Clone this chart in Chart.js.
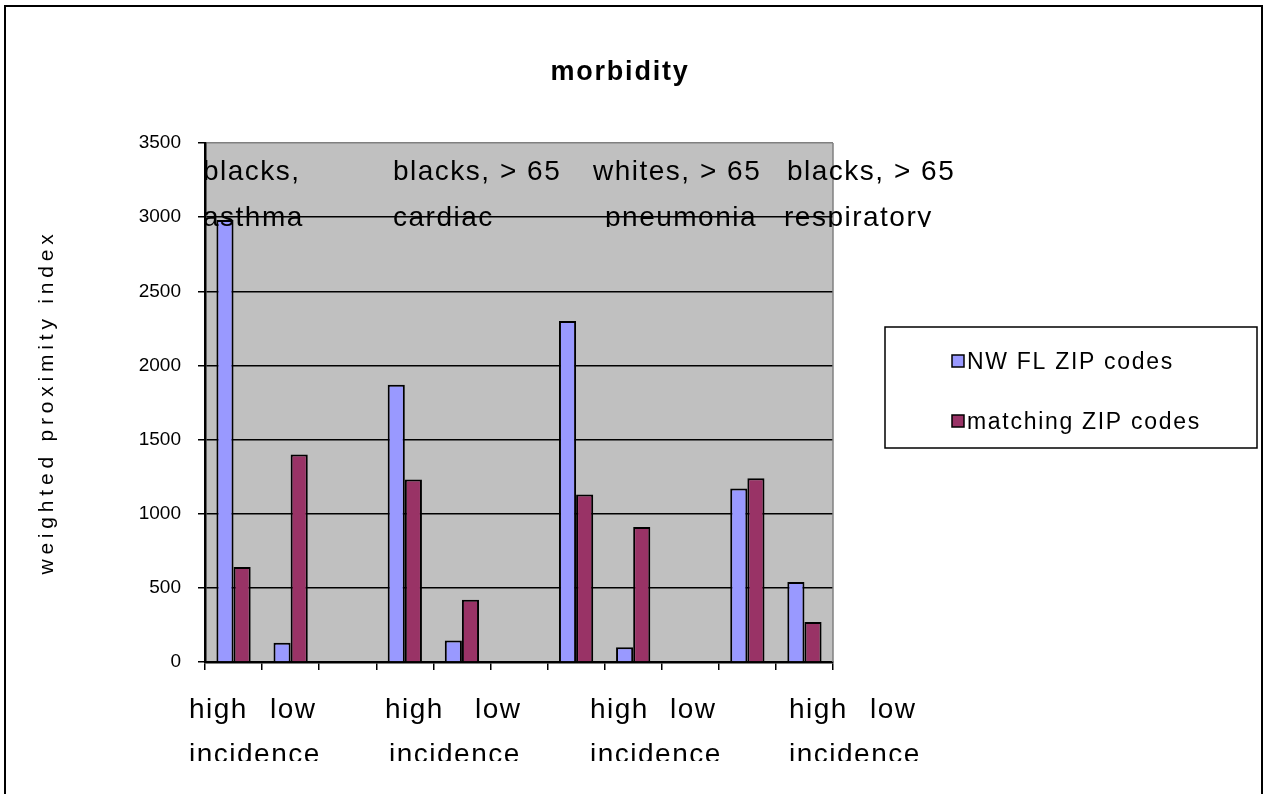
<!DOCTYPE html>
<html>
<head>
<meta charset="utf-8">
<title>morbidity</title>
<script src="https://cdn.jsdelivr.net/npm/chart.js@4/dist/chart.umd.min.js"></script>
<style>
  html, body { margin: 0; padding: 0; background: #ffffff; }
  #wrap { width: 1269px; height: 794px; position: relative; }
</style>
</head>
<body>
<div id="wrap"><canvas id="chart" width="1269" height="794"></canvas></div>
<script>
// Categories along the x axis: high / low incidence, with a spacer between groups
const categories = ['high', 'low', '', 'high', 'low', '', 'high', 'low', '', 'high', 'low'];

// Weighted proximity index per category
const nwflZip = [2980, 130, null, 1870, 145, null, 2300, 100, null, 1170, 540];
const matchingZip = [640, 1400, null, 1230, 420, null, 1130, 910, null, 1240, 270];

// Y axis ticks
const yTicks = [0, 500, 1000, 1500, 2000, 2500, 3000, 3500];

// Text blocks
const chartTitle = 'morbidity';
const yTitle = 'weighted proximity index';
const seriesNames = ['NW FL ZIP codes', 'matching ZIP codes'];
const groupCaptions = [
  ['blacks,', 'asthma'],
  ['blacks, > 65', 'cardiac'],
  ['whites, > 65', 'pneumonia'],
  ['blacks, > 65', 'respiratory']
];
const incidenceWords = ['high', 'low', 'incidence'];

// Placement of the free text boxes (pixels)
const captionX = [[203, 203], [393, 393], [593, 605], [787, 784]];
const incidenceX = [[189, 270, 189], [385, 475, 389], [590, 670, 590], [789, 870, 789]];

const FONT = '"Liberation Sans", Arial, sans-serif';
const BLUE = '#9999FF';
const PLUM = '#993366';

function txt(ctx, s, x, y, size, opts) {
  opts = opts || {};
  ctx.save();
  ctx.font = (opts.bold ? 'bold ' : '') + size + 'px ' + FONT;
  ctx.fillStyle = '#000';
  ctx.textAlign = opts.align || 'left';
  ctx.textBaseline = 'alphabetic';
  if ('letterSpacing' in ctx) ctx.letterSpacing = (opts.spacing != null ? opts.spacing : 1.5) + 'px';
  ctx.fillText(s, x, y);
  ctx.restore();
}

const decor = {
  id: 'decor',
  beforeDraw(chart) {
    const { ctx, chartArea: a } = chart;
    ctx.save();
    ctx.fillStyle = '#ffffff';
    ctx.fillRect(0, 0, chart.width, chart.height);
    ctx.fillStyle = '#C0C0C0';
    ctx.fillRect(a.left, a.top, a.right - a.left, a.bottom - a.top);
    ctx.restore();
  },
  afterDraw(chart) {
    const { ctx, chartArea: a } = chart;
    ctx.save();
    // right edge of the plot area
    ctx.strokeStyle = '#808080';
    ctx.lineWidth = 1.5;
    ctx.beginPath();
    ctx.moveTo(a.right, a.top);
    ctx.lineTo(a.right, a.bottom);
    ctx.stroke();
    ctx.restore();

    // title
    txt(ctx, chartTitle, 620, 80, 27, { bold: true, align: 'center', spacing: 1.8 });

    // y axis title
    ctx.save();
    ctx.translate(46, 402);
    ctx.rotate(-Math.PI / 2);
    txt(ctx, yTitle, 0, 7, 21, { align: 'center', spacing: 4.8 });
    ctx.restore();

    // group captions, clipped to their boxes
    ctx.save();
    ctx.beginPath();
    ctx.rect(0, 140, chart.width, 87);
    ctx.clip();
    groupCaptions.forEach((lines, g) => {
      txt(ctx, lines[0], captionX[g][0], 180, 28);
      txt(ctx, lines[1], captionX[g][1], 226, 28);
    });
    ctx.restore();

    // incidence captions below the axis
    ctx.save();
    ctx.beginPath();
    ctx.rect(0, 680, chart.width, 81);
    ctx.clip();
    incidenceX.forEach(xs => {
      txt(ctx, incidenceWords[0], xs[0], 718, 28);
      txt(ctx, incidenceWords[1], xs[1], 718, 28);
      txt(ctx, incidenceWords[2], xs[2], 763, 28);
    });
    ctx.restore();

    // legend
    ctx.save();
    ctx.strokeStyle = '#000';
    ctx.lineWidth = 1.5;
    ctx.strokeRect(885, 327, 372, 121);
    chart.data.datasets.forEach((ds, i) => {
      const y = 355 + i * 60;
      ctx.fillStyle = ds.backgroundColor;
      ctx.fillRect(952, y, 12, 12);
      ctx.strokeRect(952, y, 12, 12);
      txt(ctx, ds.label, 967, y + 14, 23, { spacing: 1.7 });
    });
    ctx.restore();

    // outer frame
    ctx.save();
    ctx.strokeStyle = '#000';
    ctx.lineWidth = 2;
    ctx.strokeRect(5, 6, 1257, 820);
    ctx.restore();
  }
};

new Chart(document.getElementById('chart'), {
  type: 'bar',
  data: {
    labels: categories,
    datasets: [
      { label: seriesNames[0], data: nwflZip, backgroundColor: BLUE, borderColor: '#000', borderWidth: 2 },
      { label: seriesNames[1], data: matchingZip, backgroundColor: PLUM, borderColor: '#000', borderWidth: 2 }
    ]
  },
  options: {
    responsive: false,
    animation: false,
    events: [],
    layout: { padding: { top: 143, right: 436, bottom: 0, left: 0 } },
    datasets: { bar: { categoryPercentage: 0.6, barPercentage: 1.0, borderSkipped: 'bottom' } },
    plugins: {
      legend: { display: false },
      title: { display: false },
      tooltip: { enabled: false }
    },
    scales: {
      x: {
        offset: true,
        afterFit(s) { s.height = 132; },
        grid: { offset: true, drawOnChartArea: false, drawTicks: true, tickLength: 8, color: '#000', lineWidth: 1.5 },
        border: { display: true, color: '#000', width: 2.5 },
        ticks: { autoSkip: false, maxRotation: 0, callback: () => '' }
      },
      y: {
        min: yTicks[0],
        max: yTicks[yTicks.length - 1],
        afterFit(s) { s.width = 205; },
        afterBuildTicks(s) { s.ticks = yTicks.map(v => ({ value: v })); },
        grid: {
          color: c => (c.tick && c.tick.value === yTicks[yTicks.length - 1]) ? '#808080' : '#000',
          tickColor: '#000',
          lineWidth: 1.5,
          tickLength: 7
        },
        border: { display: true, color: '#000', width: 2.5 },
        ticks: {
          color: '#000',
          padding: 17,
          font: { family: FONT, size: 19 },
          callback: v => String(v)
        }
      }
    }
  },
  plugins: [decor]
});
</script>
</body>
</html>
